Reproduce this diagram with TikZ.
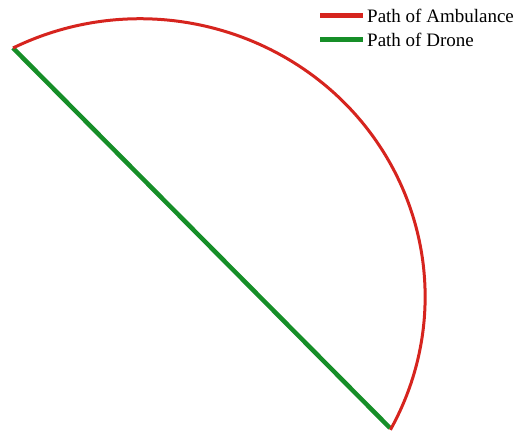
\documentclass[tikz,border=0pt]{standalone}
\usepackage{fontspec}
\setmainfont{Liberation Serif}
\definecolor{ambred}{RGB}{214,36,30}
\definecolor{drgreen}{RGB}{22,142,40}
\tikzset{
  ambpath/.style={draw=ambred, line width=3pt},
  dronepath/.style={draw=drgreen, line width=4.5pt},
  legline/.style={line width=5pt},
  legtext/.style={anchor=base west, inner sep=0pt, font=\fontsize{19}{23}\selectfont}
}
\begin{document}
\begin{tikzpicture}[x=1pt,y=1pt]
\useasboundingbox (0,0) rectangle (516,434);
\coordinate (A) at (13,386);
\coordinate (B) at (390,6);
\draw[dronepath] (A) -- (B);
\draw[ambpath] (A) arc[start angle=116.5, end angle=-28.6, x radius=285pt, y radius=278pt];
% legend
\coordinate (r1) at (320,418);
\coordinate (r2) at (363,418);
\coordinate (g1) at (320,394);
\coordinate (g2) at (363,394);
\draw[legline, ambred] (r1) -- (r2);
\draw[legline, drgreen] (g1) -- (g2);
\node[legtext] (t1) at (367,411) {Path of Ambulance};
\node[legtext] (t2) at (367,387) {Path of Drone};
\end{tikzpicture}
\end{document}
